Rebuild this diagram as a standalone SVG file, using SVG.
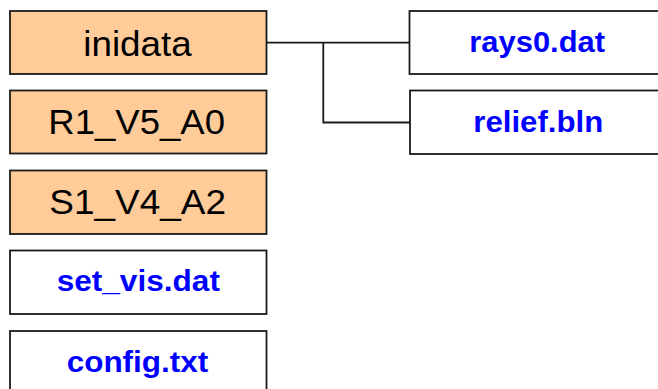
<svg xmlns="http://www.w3.org/2000/svg" width="658" height="389" viewBox="0 0 658 389">
  <style>
    .box { stroke: #1a1a1a; stroke-width: 1.8; }
    .dir { fill: #FFCC99; }
    .file { fill: #FFFFFF; }
    .dname { font-family: "Liberation Sans", Arial, sans-serif; font-size: 35px; fill: #000000; text-anchor: middle; }
    .fname { font-family: "Liberation Sans", Arial, sans-serif; font-size: 29px; font-weight: bold; fill: #0000FF; text-anchor: middle; }
    .link { fill: none; stroke: #1a1a1a; stroke-width: 1.8; }
  </style>

  <!-- connectors from inidata to its files -->
  <g id="connectors">
    <polyline class="link" points="266.5,42.7 410,42.7"/>
    <polyline class="link" points="323.3,42.7 323.3,122.5 410,122.5"/>
  </g>

  <g id="inidata">
    <rect class="box dir" x="10" y="11" width="256.5" height="63"/>
    <text class="dname" x="137.5" y="56" textLength="108.5" lengthAdjust="spacingAndGlyphs">inidata</text>
  </g>

  <g id="R1_V5_A0">
    <rect class="box dir" x="10" y="90.5" width="256.5" height="63"/>
    <text class="dname" x="136.7" y="134" textLength="176.7" lengthAdjust="spacingAndGlyphs">R1_V5_A0</text>
  </g>

  <g id="S1_V4_A2">
    <rect class="box dir" x="10" y="170.5" width="256.5" height="63.5"/>
    <text class="dname" x="137.7" y="214.3" textLength="176.7" lengthAdjust="spacingAndGlyphs">S1_V4_A2</text>
  </g>

  <g id="set_vis">
    <rect class="box file" x="10" y="250.5" width="256.5" height="63.5"/>
    <text class="fname" x="138.3" y="290.5" textLength="163.3" lengthAdjust="spacingAndGlyphs">set_vis.dat</text>
  </g>

  <g id="config">
    <rect class="box file" x="10" y="331" width="256.5" height="64"/>
    <text class="fname" x="137.5" y="371.7" textLength="141.7" lengthAdjust="spacingAndGlyphs">config.txt</text>
  </g>

  <g id="rays0">
    <rect class="box file" x="409.5" y="11" width="260" height="63"/>
    <text class="fname" x="537.2" y="51.5" textLength="135.7" lengthAdjust="spacingAndGlyphs">rays0.dat</text>
  </g>

  <g id="relief">
    <rect class="box file" x="410" y="90.5" width="260" height="63.5"/>
    <text class="fname" x="538.3" y="131.5" textLength="130" lengthAdjust="spacingAndGlyphs">relief.bln</text>
  </g>
</svg>
